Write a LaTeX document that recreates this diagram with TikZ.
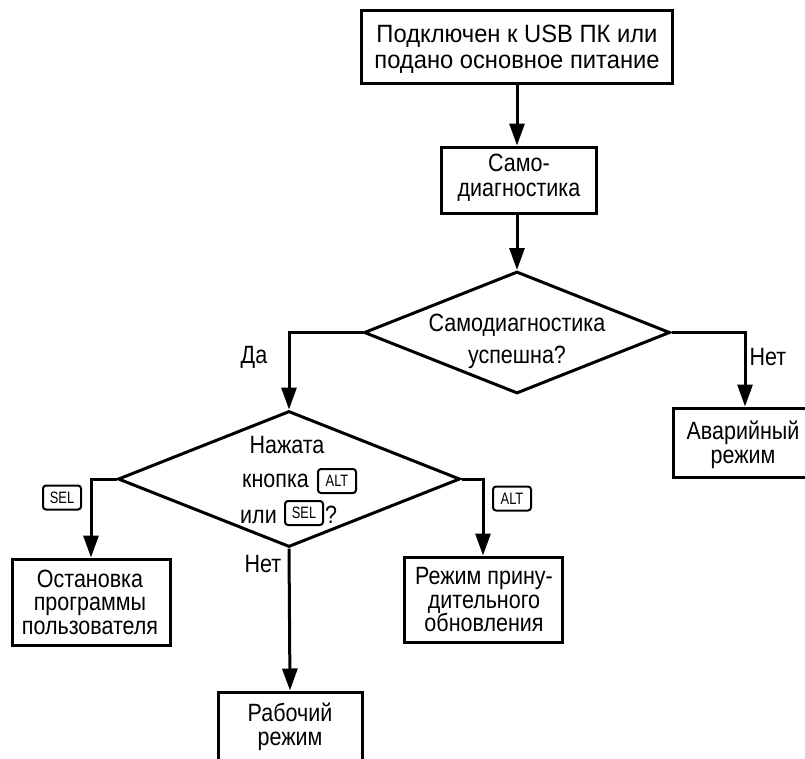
\documentclass[tikz,border=0pt]{standalone}
\usepackage{fontspec}
\setmainfont[FakeStretch=0.86]{Liberation Sans}
\newfontfamily\wideF[FakeStretch=0.95]{Liberation Sans}
\newfontfamily\keyF[FakeStretch=0.78]{Liberation Sans}
\usetikzlibrary{shapes.geometric,arrows.meta}
\begin{document}
\begin{tikzpicture}[x=1pt,y=-1pt,
  box/.style={draw,line width=3pt,inner sep=0pt},
  btxt/.style={align=center,inner sep=0pt,font=\fontsize{25}{#1}\selectfont},
  dia/.style={draw,diamond,line width=3pt,inner sep=0pt},
  lbl/.style={font=\fontsize{25}{27}\selectfont,inner sep=0pt},
  key/.style={draw,rounded corners=3pt,line width=2pt,minimum width=38pt,minimum height=24pt,inner sep=0pt,font=\keyF\fontsize{16.5}{16.5}\selectfont},
  arr/.style={line width=3pt,-{Triangle[length=22pt,width=15pt]}}]
\useasboundingbox (0,0) rectangle (805,758);
\clip (0,0) rectangle (805,758);
% boxes
\node[box,minimum width=311pt,minimum height=73pt] (start) at (517,46.5) {};
\node[btxt=26,font=\wideF\fontsize{25}{26}\selectfont] (start-t) at (517,49.5) {Подключен к USB ПК или\\подано основное питание};
\node[box,minimum width=155pt,minimum height=66pt] (diag) at (519,180) {};
\node[btxt=25] (diag-t) at (519,178) {Само-\\диагностика};
\node[dia,minimum width=306pt,minimum height=122pt] (d1) at (517,332.5) {};
\node[lbl,anchor=base] (d1a) at (517,331) {Самодиагностика};
\node[lbl,anchor=base] (d1b) at (517,363) {успешна?};
\node[box,minimum width=144pt,minimum height=69pt] (avar) at (745,442.5) {};
\node[btxt=23.5] (avar-t) at (743,445) {Аварийный\\режим};
\node[dia,minimum width=342pt,minimum height=136pt] (d2) at (289,479) {};
\node[lbl,anchor=base] (d2a) at (287,453) {Нажата};
\node[lbl,anchor=base west] (d2b) at (242,487) {кнопка};
\node[key] (kalt) at (337,481) {ALT};
\node[lbl,anchor=base west] (d2c) at (240,523) {или};
\node[key] (ksel) at (304,513) {SEL};
\node[lbl,anchor=base west] (d2d) at (325,523) {?};
\node[box,minimum width=158pt,minimum height=86pt] (stop) at (91,602) {};
\node[btxt=23.5] (stop-t) at (90,602) {Остановка\\программы\\пользователя};
\node[box,minimum width=158pt,minimum height=85pt] (force) at (483,599.5) {};
\node[btxt=23.5] (force-t) at (484,600) {Режим прину-\\дительного\\обновления};
\node[box,minimum width=144pt,minimum height=73pt] (work) at (290,728.5) {};
\node[btxt=23.5] (work-t) at (290,727) {Рабочий\\режим};
% labels
\node[lbl] (yes) at (254,357) {Да};
\node[lbl] (no1) at (768,357) {Нет};
\node[lbl] (no2) at (263,564) {Нет};
\node[key] (ksel2) at (62,497.5) {SEL};
\node[key] (kalt2) at (512,498.5) {ALT};
% connectors
\draw[arr] (start) -- (diag.north -| start);
\draw[arr] (diag.south -| d1) -- (d1);
\draw[arr] (d1.west) -| (d2.north);
\draw[arr] (d1.east) -| (avar.north);
\draw[arr] (d2.west) -| (stop.north);
\draw[arr] (d2.east) -| (force.north);
\draw[arr] (d2.south) -- (work.north);
\end{tikzpicture}
\end{document}
